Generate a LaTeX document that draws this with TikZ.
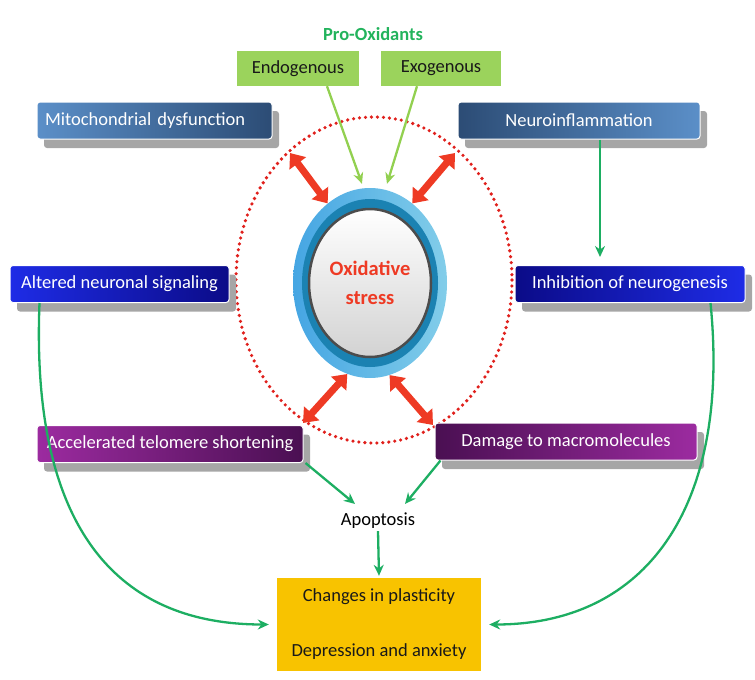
\documentclass[tikz,border=0pt]{standalone}
\usepackage{fontspec}
\setmainfont{Carlito}
\usepackage{tikz}
\usetikzlibrary{shapes,arrows.meta,shadows}
\definecolor{steelL}{HTML}{5B8FC8}
\definecolor{steelD}{HTML}{2C4C75}
\definecolor{blueL}{HTML}{1E2CE6}
\definecolor{blueD}{HTML}{0B0B88}
\definecolor{purpL}{HTML}{9C2BA0}
\definecolor{purpD}{HTML}{4A0F52}
\definecolor{leaf}{HTML}{9BD35C}
\definecolor{leafarrow}{HTML}{92D050}
\definecolor{grn}{HTML}{1DAE62}
\definecolor{proGreen}{HTML}{22B35C}
\definecolor{oxred}{HTML}{EE3A24}
\definecolor{dotred}{HTML}{E0201C}
\definecolor{ringL}{HTML}{4DB8E0}
\definecolor{ringD}{HTML}{1B82B2}
\definecolor{gold}{HTML}{F8C300}

\begin{document}
\begin{tikzpicture}[x=1pt, y=-1pt,
    box/.style={rectangle, rounded corners=3pt, draw=white, line width=1pt, text=white, minimum height=37pt, inner xsep=4pt, font=\fontsize{18.5}{22}\selectfont, drop shadow={shadow xshift=7pt, shadow yshift=-9pt, fill=gray!70, opacity=1}},
    src/.style={rectangle, fill=leaf, minimum height=35pt, font=\fontsize{18.5}{22}\selectfont, text=black!90},
    link/.style={draw=grn, line width=2.3pt, -{Stealth[length=11pt,width=10pt]}},
    feed/.style={draw=leafarrow, line width=2.3pt, -{Stealth[length=11pt,width=10pt]}},
    burst/.style={draw=oxred, line width=7pt, {Triangle[width=20pt,length=13pt]}-{Triangle[width=20pt,length=13pt]}}]
    \useasboundingbox (0,0) rectangle (755,680);
    \draw[dotred, line width=3.6pt, line cap=round, dash pattern=on 0pt off 6pt] (374,280) ellipse [x radius=138, y radius=163];
    \node[ellipse, minimum width=154pt, minimum height=190pt, left color=ringL!90!blue, right color=ringL!70!white] (ring) at (370,283) {};
    \fill[ringD] (ring.center) ellipse [x radius=68, y radius=84];
    \draw[line width=2.5pt, draw=black!70, top color=white, bottom color=gray!35] (ring.center) ellipse [x radius=61, y radius=74];
    \node[font=\bfseries\fontsize{20.5}{29}\selectfont, text=oxred, align=center] (ox) at (ring.center) {Oxidative\\stress};
    \coordinate (tl) at (290,153);
    \coordinate (tr) at (455,153);
    \coordinate (bl) at (303,423);
    \coordinate (br) at (433,425);
    \draw[burst] (tl) -- (ring.118);
    \draw[burst] (tr) -- (ring.62);
    \draw[burst] (bl) -- (ring.256);
    \draw[burst] (br) -- (ring.282);
    \node[font=\bfseries\fontsize{18.5}{22}\selectfont, text=proGreen] (pro) at (373,34) {Pro-Oxidants};
    \node[src, minimum width=122pt] (endo) at (298,68.5) {Endogenous};
    \node[src, minimum width=120pt] (exo) at (441,68.5) {Exogenous};
    \node[box, text width=219pt, align=left, inner xsep=8pt, left color=steelL, right color=steelD] (mito) at (154.5,120.5) {Mitochondrial dysfunction};
    \node[box, minimum width=242pt, left color=steelD, right color=steelL] (neuro) at (579,120.5) {Neuroinflammation};
    \node[box, minimum width=219pt, left color=blueL, right color=blueD] (alt) at (119.5,284) {Altered neuronal signaling};
    \node[box, minimum width=230pt, left color=blueD, right color=blueL] (inhib) at (630,284) {Inhibition of neurogenesis};
    \node[box, minimum width=266pt, left color=purpL, right color=purpD] (acc) at (170,444) {Accelerated telomere shortening};
    \node[box, minimum width=262pt, left color=purpD, right color=purpL] (dmg) at (566,441.5) {Damage to macromolecules};
    \node[font=\fontsize{18.5}{22}\selectfont, inner sep=2pt] (apo) at (378,521) {Apoptosis};
    \node[fill=gold, minimum width=204pt, minimum height=93pt, align=center, font=\fontsize{18.5}{22}\selectfont, text=black!90] (yel) at (379,624.5) {Changes in plasticity\\[33pt]Depression and anxiety};
    \draw[feed] ([xshift=29pt]endo.south) -- ([xshift=-8pt,yshift=4pt]ring.north);
    \draw[feed] ([xshift=-24pt]exo.south) -- ([xshift=17pt,yshift=4pt]ring.north);
    \draw[link] ([xshift=21pt]neuro.south) -- ([xshift=-30pt,yshift=8pt]inhib.north);
    \draw[link] ([xshift=30pt]alt.south west) .. controls +(-8,200) and +(-170,0) .. ([xshift=-8pt]yel.west);
    \draw[link] ([xshift=-35pt]inhib.south east) .. controls +(20,200) and +(160,0) .. ([xshift=8pt]yel.east);
    \draw[link] ([xshift=2pt]acc.south east) -- ([xshift=-23pt,yshift=7pt]apo.north);
    \draw[link] ([xshift=6pt]dmg.south west) -- ([xshift=27pt,yshift=7pt]apo.north);
    \draw[link] (apo.south) -- ([yshift=2pt]yel.north);
\end{tikzpicture}
\end{document}
